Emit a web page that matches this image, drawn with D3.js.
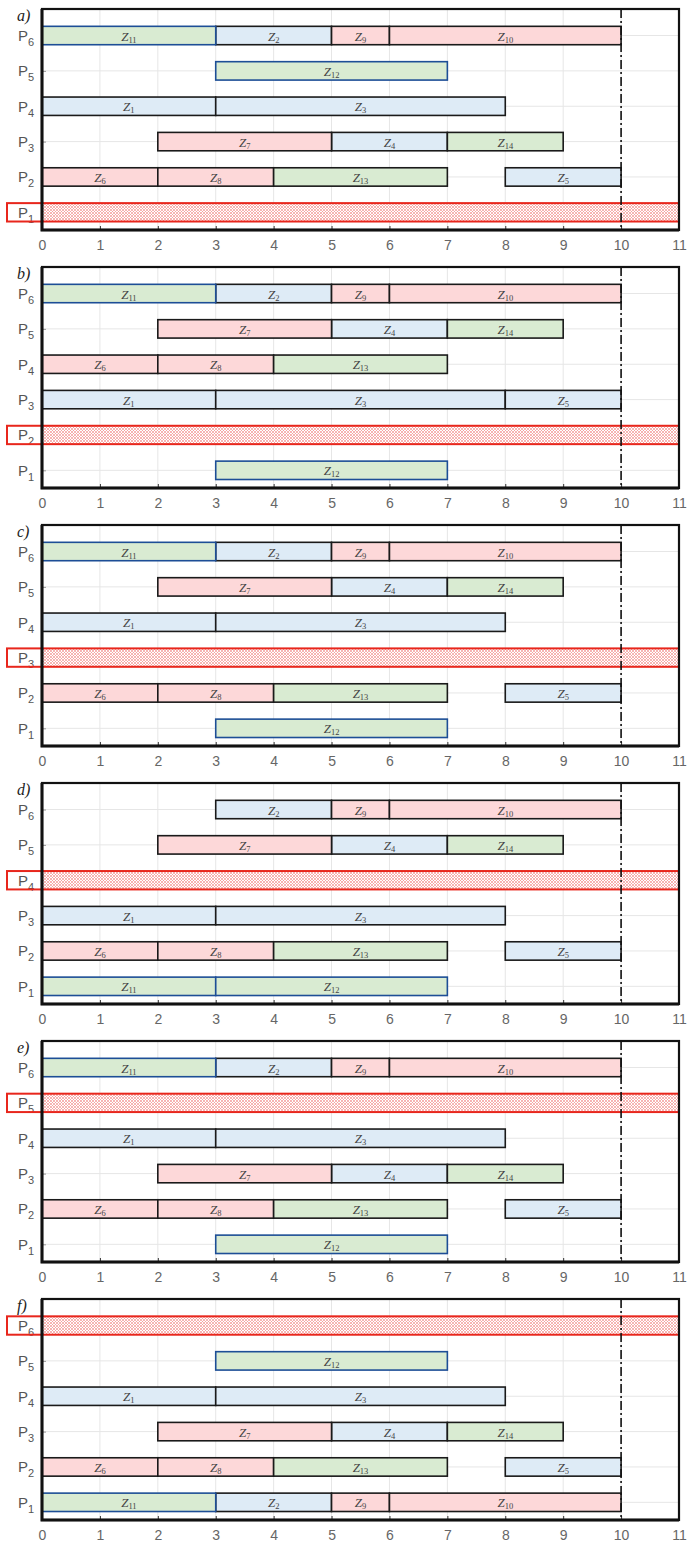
<!DOCTYPE html>
<html>
<head>
<meta charset="utf-8">
<script src="https://cdn.jsdelivr.net/npm/d3@7"></script>
<style>
  body { margin: 0; background: #fff; }
</style>
</head>
<body>
<div id="chart"></div>
<script>
// panel captions, processors, x ticks
const panelLabels = ["a)", "b)", "c)", "d)", "e)", "f)"];
const processors = [1, 2, 3, 4, 5, 6];
const xTicks = [0, 1, 2, 3, 4, 5, 6, 7, 8, 9, 10, 11];
const deadline = 10;

// tasks Z1..Z14
const taskIds = [1, 2, 3, 4, 5, 6, 7, 8, 9, 10, 11, 12, 13, 14];
const taskStart = [0, 3, 3, 5, 8, 0, 2, 2, 5, 6, 0, 3, 4, 7];
const taskEnd = [3, 5, 8, 7, 10, 2, 5, 4, 6, 10, 3, 7, 7, 9];
const taskGroup = ["blue", "blue", "blue", "blue", "blue",
                   "red", "red", "red", "red", "red",
                   "green", "green", "green", "green"];

// processor of each task (Z1..Z14) in each panel
const procA = [4, 6, 4, 3, 2, 2, 3, 2, 6, 6, 6, 5, 2, 3];
const procB = [3, 6, 3, 5, 3, 4, 5, 4, 6, 6, 6, 1, 4, 5];
const procC = [4, 6, 4, 5, 2, 2, 5, 2, 6, 6, 6, 1, 2, 5];
const procD = [3, 6, 3, 5, 2, 2, 5, 2, 6, 6, 1, 1, 2, 5];
const procE = [4, 6, 4, 3, 2, 2, 3, 2, 6, 6, 6, 1, 2, 3];
const procF = [4, 1, 4, 3, 2, 2, 3, 2, 1, 1, 1, 5, 2, 3];
const assignments = [procA, procB, procC, procD, procE, procF];
const failedProc = [1, 2, 3, 4, 5, 6];

const W = 699, H = 1545;
const left = 42, right = 679;
const panelH = 221, pitch = 258, firstTop = 9;

const fills = { blue: "#deebf6", red: "#fdd8d9", green: "#d9ebd2" };

const svg = d3.select("#chart").append("svg")
    .attr("width", W)
    .attr("height", H);

// fine red cross-hatch for the failed processor
const pat = svg.append("defs").append("pattern")
    .attr("id", "hatch")
    .attr("patternUnits", "userSpaceOnUse")
    .attr("width", 3)
    .attr("height", 3);
pat.append("rect").attr("width", 3).attr("height", 3).attr("fill", "#fff");
pat.append("path")
    .attr("d", "M0,0L3,3M3,0L0,3")
    .attr("stroke", "#f39593")
    .attr("stroke-width", 0.7);

const x = d3.scaleLinear().domain([0, 11]).range([left, right]);

panelLabels.forEach((lab, pi) => {
    const top = firstTop + pi * pitch;
    const bottom = top + panelH;
    const y = d3.scaleLinear().domain([0.5, 6.75]).range([bottom, top]);
    const barH = y(0) - y(0.52);
    const g = svg.append("g");

    // grid
    g.append("g")
        .selectAll("line.vg")
        .data(xTicks.slice(1, -1))
        .join("line")
        .attr("x1", d => x(d)).attr("x2", d => x(d))
        .attr("y1", top).attr("y2", bottom)
        .style("stroke", "#e6e6e6")
        .style("stroke-width", 1);
    g.append("g")
        .selectAll("line.hg")
        .data(processors)
        .join("line")
        .attr("x1", left).attr("x2", right)
        .attr("y1", d => y(d)).attr("y2", d => y(d))
        .style("stroke", "#e6e6e6")
        .style("stroke-width", 1);

    // x axis (inward ticks)
    const xa = g.append("g")
        .attr("transform", `translate(0,${bottom})`)
        .call(d3.axisBottom(x).tickValues(xTicks).tickSizeInner(-4).tickSizeOuter(0).tickPadding(10));
    xa.select(".domain").remove();
    xa.selectAll("line").style("stroke", "#333");
    xa.selectAll("text")
        .style("font-family", "'Liberation Sans', Arial, sans-serif")
        .style("font-size", "14px")
        .style("fill", "#666");

    // y axis with P subscripts
    const ya = g.append("g")
        .attr("transform", `translate(${left},0)`)
        .call(d3.axisLeft(y).tickValues(processors).tickSizeInner(-4).tickSizeOuter(0).tickPadding(7).tickFormat(""));
    ya.select(".domain").remove();
    ya.selectAll("line").style("stroke", "#999");
    ya.selectAll(".tick").each(function (d) {
        const t = d3.select(this).select("text")
            .attr("x", -24)
            .attr("dy", "0.32em")
            .style("text-anchor", "start")
            .style("font-family", "'Liberation Sans', Arial, sans-serif")
            .style("font-size", "15px")
            .style("fill", "#555");
        t.append("tspan").text("P");
        t.append("tspan").attr("dy", 5).style("font-size", "11px").text(d);
    });

    // tasks
    const assign = assignments[pi];
    const tasks = taskIds.map((id, i) => ({
        id: id, s: taskStart[i], e: taskEnd[i], grp: taskGroup[i], p: assign[i]
    }));
    const tg = g.append("g")
        .selectAll("g")
        .data(tasks)
        .join("g");
    tg.append("rect")
        .attr("x", d => x(d.s))
        .attr("y", d => y(d.p) - barH / 2)
        .attr("width", d => x(d.e) - x(d.s))
        .attr("height", barH)
        .style("fill", d => fills[d.grp])
        .style("stroke", d => (d.id === 11 || d.id === 12) ? "#1d4e96" : "#1a1a1a")
        .style("stroke-width", 1.6);
    const tt = tg.append("text")
        .attr("x", d => (x(d.s) + x(d.e)) / 2)
        .attr("y", d => y(d.p) + 5)
        .attr("text-anchor", "middle")
        .style("font-family", "'Liberation Serif', 'DejaVu Serif', serif")
        .style("fill", "#444");
    tt.append("tspan")
        .style("font-style", "italic")
        .style("font-size", "13px")
        .text("Z");
    tt.append("tspan")
        .attr("dy", 2)
        .style("font-size", "8.5px")
        .text(d => d.id);

    // failed processor
    const fp = failedProc[pi];
    g.append("rect")
        .attr("x", x(0))
        .attr("y", y(fp) - barH / 2)
        .attr("width", x(11) - x(0))
        .attr("height", barH)
        .style("fill", "url(#hatch)")
        .style("stroke", "#e8261c")
        .style("stroke-width", 2);
    g.append("rect")
        .attr("x", left - 35)
        .attr("y", y(fp) - barH / 2)
        .attr("width", 35)
        .attr("height", barH)
        .style("fill", "none")
        .style("stroke", "#e8261c")
        .style("stroke-width", 2);

    // deadline
    g.append("line")
        .attr("x1", x(deadline)).attr("x2", x(deadline))
        .attr("y1", top).attr("y2", bottom)
        .style("stroke", "#111")
        .style("stroke-width", 1.6)
        .style("stroke-dasharray", "9,3,2,3");

    // frame
    g.append("rect")
        .attr("x", left).attr("y", top)
        .attr("width", right - left).attr("height", panelH)
        .style("fill", "none")
        .style("stroke", "#111")
        .style("stroke-width", 2.2);
    g.append("path")
        .attr("d", `M${left},${top}V${bottom}H${right}`)
        .style("fill", "none")
        .style("stroke", "#111")
        .style("stroke-width", 3);

    // panel caption
    g.append("text")
        .attr("x", 17)
        .attr("y", top + 12)
        .style("font-family", "'Liberation Serif', 'DejaVu Serif', serif")
        .style("font-style", "italic")
        .style("font-size", "16px")
        .style("fill", "#222")
        .text(lab);
});
</script>
</body>
</html>
